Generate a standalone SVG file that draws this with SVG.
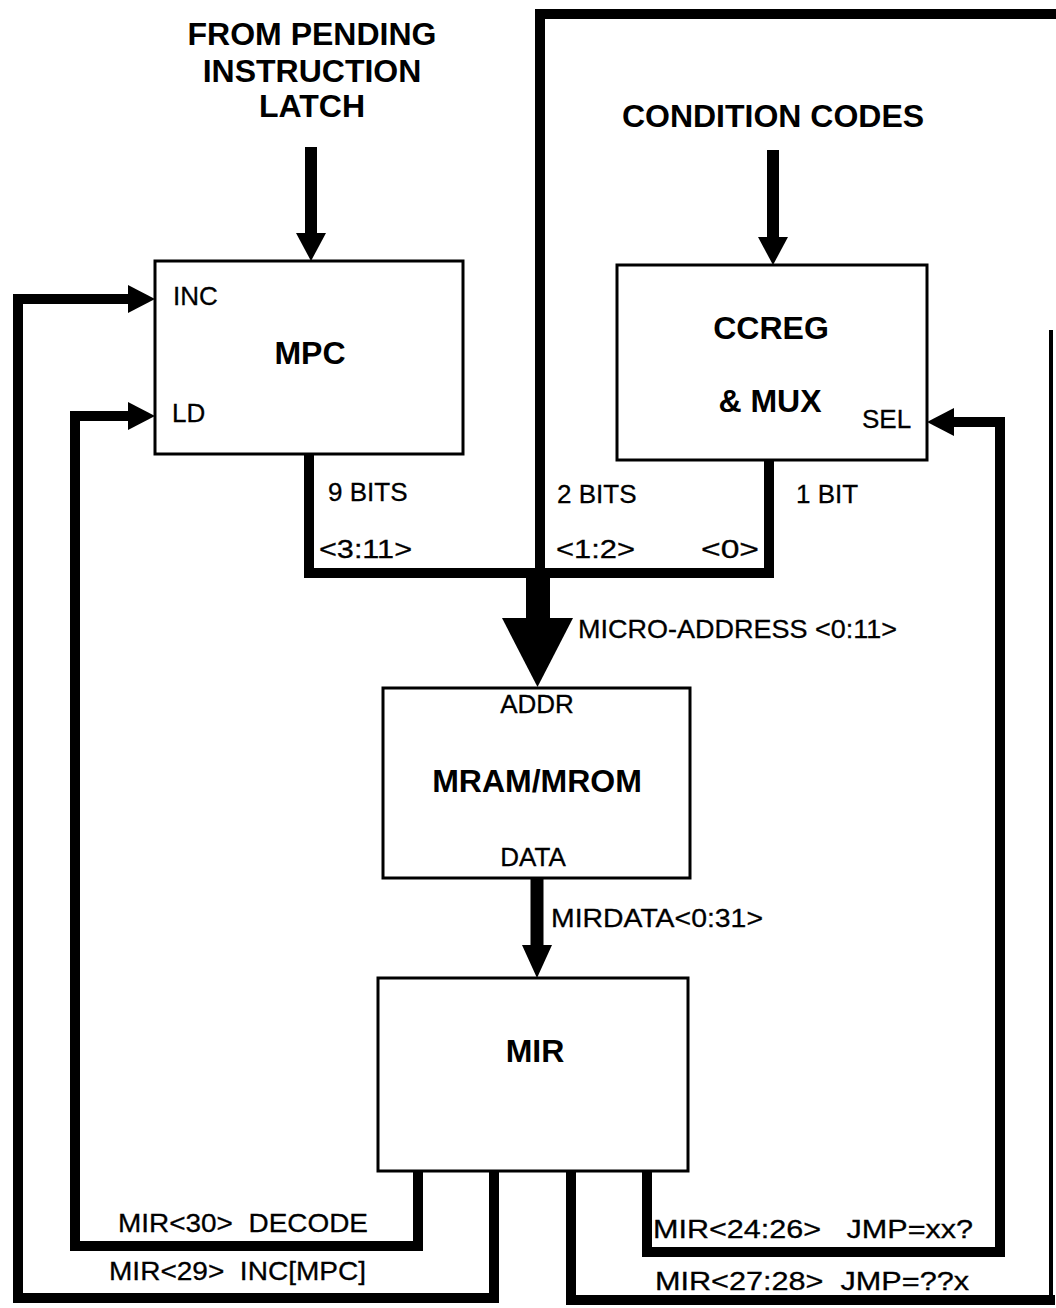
<svg xmlns="http://www.w3.org/2000/svg" width="1056" height="1308" viewBox="0 0 1056 1308">
<style>
.box{fill:#fff;stroke:#000;stroke-width:3}
.wire{fill:none;stroke:#000;stroke-width:10;stroke-linejoin:miter;stroke-linecap:square}
.shaft{fill:none;stroke:#000;stroke-width:12}
.head{fill:#000;stroke:none}
.lbl{font-family:"Liberation Sans",Arial,Helvetica,sans-serif;font-size:26px;fill:#000;stroke:#000;stroke-width:0.3}
.ttl{font-family:"Liberation Sans",Arial,Helvetica,sans-serif;font-size:32px;font-weight:bold;fill:#000}
.mid{text-anchor:middle}
</style>
<rect x="0" y="0" width="1056" height="1308" fill="#fff"/>

<g id="titles">
<text class="ttl mid" x="312" y="45">FROM PENDING</text>
<text class="ttl mid" x="312" y="82">INSTRUCTION</text>
<text class="ttl mid" x="312" y="117">LATCH</text>
<text class="ttl mid" x="773" y="127">CONDITION CODES</text>
</g>

<g id="connectors">
<!-- from pending instruction latch into MPC -->
<line class="shaft" x1="311" y1="147" x2="311" y2="235"/>
<polygon class="head" points="296,233 326,233 311,261"/>
<!-- condition codes into CCREG -->
<line class="shaft" x1="773" y1="150" x2="773" y2="239"/>
<polygon class="head" points="758,237 788,237 773,265"/>
<!-- MPC 9 bits and CCREG 1 bit into bus -->
<path class="wire" d="M309,456 V573 H769 V462"/>
<!-- MIR<27:28> loop: 2 bits -->
<path class="wire" d="M571,1172 V1300 H1050"/>
<line x1="1051" y1="1300" x2="1051" y2="330" stroke="#000" stroke-width="4"/>
<path class="wire" d="M540,574 V14 H1060"/>
<!-- micro-address bus -->
<line x1="538" y1="570" x2="538" y2="620" stroke="#000" stroke-width="24"/>
<polygon class="head" points="502,618 573,618 537.5,687"/>
<!-- MIRDATA -->
<line x1="537" y1="879" x2="537" y2="947" stroke="#000" stroke-width="13"/>
<polygon class="head" points="522,945 552,945 537,978"/>
<!-- MIR<29> INC[MPC] -->
<path class="wire" d="M494,1172 V1298 H18 V299 H130"/>
<polygon class="head" points="128,285 128,313 155,299"/>
<!-- MIR<30> DECODE -->
<path class="wire" d="M418,1172 V1246 H75 V416 H130"/>
<polygon class="head" points="128,402 128,430 155,416"/>
<!-- MIR<24:26> JMP=xx? -->
<path class="wire" d="M647,1172 V1252 H1000 V422 H952"/>
<polygon class="head" points="954,408 954,436 927,422"/>
</g>

<g id="mpc">
<rect class="box" x="155" y="261" width="308" height="193"/>
<text class="lbl" x="173" y="305">INC</text>
<text class="lbl" x="172" y="422">LD</text>
<text class="ttl mid" x="310" y="364">MPC</text>
</g>

<g id="ccreg">
<rect class="box" x="617" y="265" width="310" height="195"/>
<text class="ttl mid" x="771" y="339">CCREG</text>
<text class="ttl mid" x="770" y="412">&amp; MUX</text>
<text class="lbl" x="862" y="428">SEL</text>
</g>

<g id="mram">
<rect class="box" x="383" y="688" width="307" height="190"/>
<text class="lbl mid" x="537" y="713">ADDR</text>
<text class="ttl mid" x="537" y="792">MRAM/MROM</text>
<text class="lbl mid" x="533" y="866">DATA</text>
</g>

<g id="mir">
<rect class="box" x="378" y="978" width="310" height="193"/>
<text class="ttl mid" x="535" y="1062">MIR</text>
</g>

<g id="labels">
<text class="lbl" x="328" y="501">9 BITS</text>
<text class="lbl" x="319" y="558" textLength="93" lengthAdjust="spacingAndGlyphs">&lt;3:11&gt;</text>
<text class="lbl" x="557" y="503">2 BITS</text>
<text class="lbl" x="556" y="558" textLength="79" lengthAdjust="spacingAndGlyphs">&lt;1:2&gt;</text>
<text class="lbl" x="701" y="558" textLength="58" lengthAdjust="spacingAndGlyphs">&lt;0&gt;</text>
<text class="lbl" x="796" y="503">1 BIT</text>
<text class="lbl" x="578" y="638" textLength="319" lengthAdjust="spacingAndGlyphs" xml:space="preserve">MICRO-ADDRESS &lt;0:11&gt;</text>
<text class="lbl" x="551" y="927" textLength="212" lengthAdjust="spacingAndGlyphs">MIRDATA&lt;0:31&gt;</text>
<text class="lbl" x="118" y="1232" textLength="250" lengthAdjust="spacingAndGlyphs" xml:space="preserve">MIR&lt;30&gt;  DECODE</text>
<text class="lbl" x="109" y="1280" textLength="257" lengthAdjust="spacingAndGlyphs" xml:space="preserve">MIR&lt;29&gt;  INC[MPC]</text>
<text class="lbl" x="653" y="1238" textLength="320" lengthAdjust="spacingAndGlyphs" xml:space="preserve">MIR&lt;24:26&gt;   JMP=xx?</text>
<text class="lbl" x="655" y="1290" textLength="314" lengthAdjust="spacingAndGlyphs" xml:space="preserve">MIR&lt;27:28&gt;  JMP=??x</text>
</g>
</svg>
